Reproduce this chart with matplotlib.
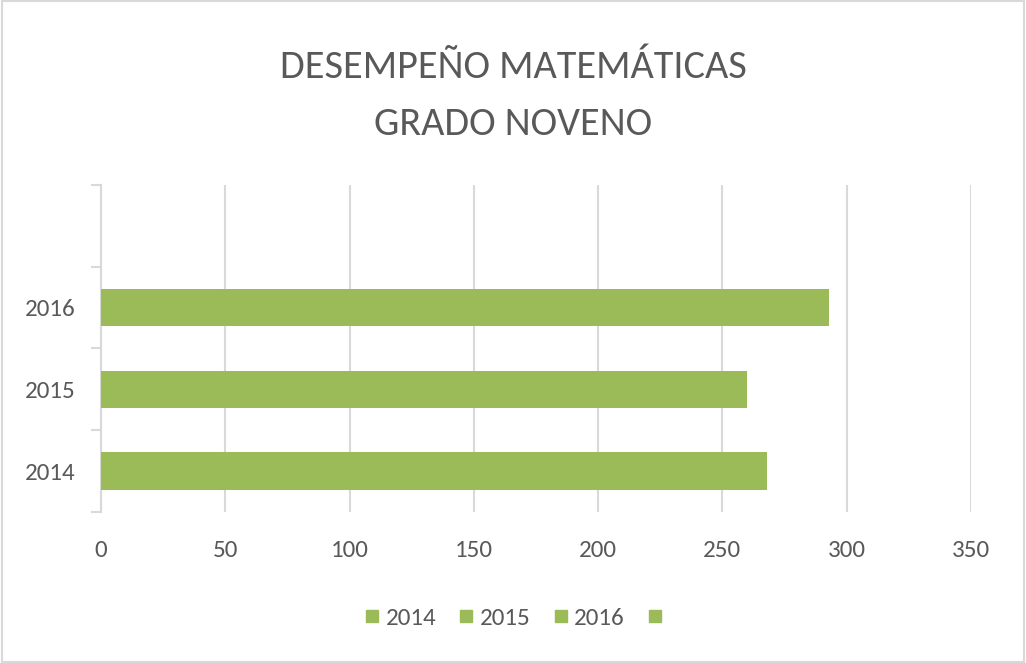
import numpy as np
import matplotlib.pyplot as plt
from matplotlib.lines import Line2D
from matplotlib.patches import Rectangle

# Desempeño matemáticas grado noveno
categories = ["2014", "2015", "2016", ""]
values = [268, 260, 293, np.nan]
legend_labels = ["2014", "2015", "2016", ""]
x_ticks = [0, 50, 100, 150, 200, 250, 300, 350]

green = "#9bbb59"
grid_gray = "#d9d9d9"
text_gray = "#595959"

plt.rcParams['font.family'] = ['Carlito', 'DejaVu Sans']

fig = plt.figure(figsize=(10.26, 6.63), dpi=100)
ax = fig.add_axes([0.0984, 0.2278, 0.848, 0.4932])

pos = np.arange(len(categories))
ax.barh(pos, values, height=0.46, color=green, zorder=3)

ax.set_xlim(0, 350)
ax.set_ylim(-0.5, len(categories) - 0.5)
ax.set_xticks(x_ticks)
ax.set_xticklabels([str(t) for t in x_ticks])
ax.set_yticks(pos)
ax.set_yticklabels(categories)
ax.set_yticks(np.arange(len(categories) + 1) - 0.5, minor=True)

ax.grid(axis='x', color=grid_gray, linewidth=1.5, zorder=0)
for s in ['top', 'right', 'bottom']:
    ax.spines[s].set_visible(False)
ax.spines['left'].set_color(grid_gray)
ax.spines['left'].set_linewidth(1.5)

ax.tick_params(axis='x', length=0, pad=20, labelsize=18, labelcolor=text_gray)
ax.tick_params(axis='y', which='major', length=0, pad=18, labelsize=18, labelcolor=text_gray)
ax.tick_params(axis='y', which='minor', length=7, width=1.5, color=grid_gray)

fig.text(0.5, 0.856, "DESEMPEÑO MATEMÁTICAS\nGRADO NOVENO", ha='center', va='center',
         fontsize=29, color=text_gray, linespacing=1.7)

handles = [Line2D([], [], marker='s', linestyle='none', markersize=8,
                  color=green) for _ in legend_labels]
fig.legend(handles, legend_labels, loc='center', bbox_to_anchor=(0.501, 0.068),
           ncol=4, frameon=False, fontsize=18, labelcolor=text_gray,
           handletextpad=0.05, columnspacing=0.7, handlelength=1.0)

fig.patches.append(Rectangle((0.002, 0.002), 0.996, 0.996, transform=fig.transFigure,
                             fill=False, edgecolor=grid_gray, linewidth=1.5))

fig.savefig("out.png", dpi=100)
